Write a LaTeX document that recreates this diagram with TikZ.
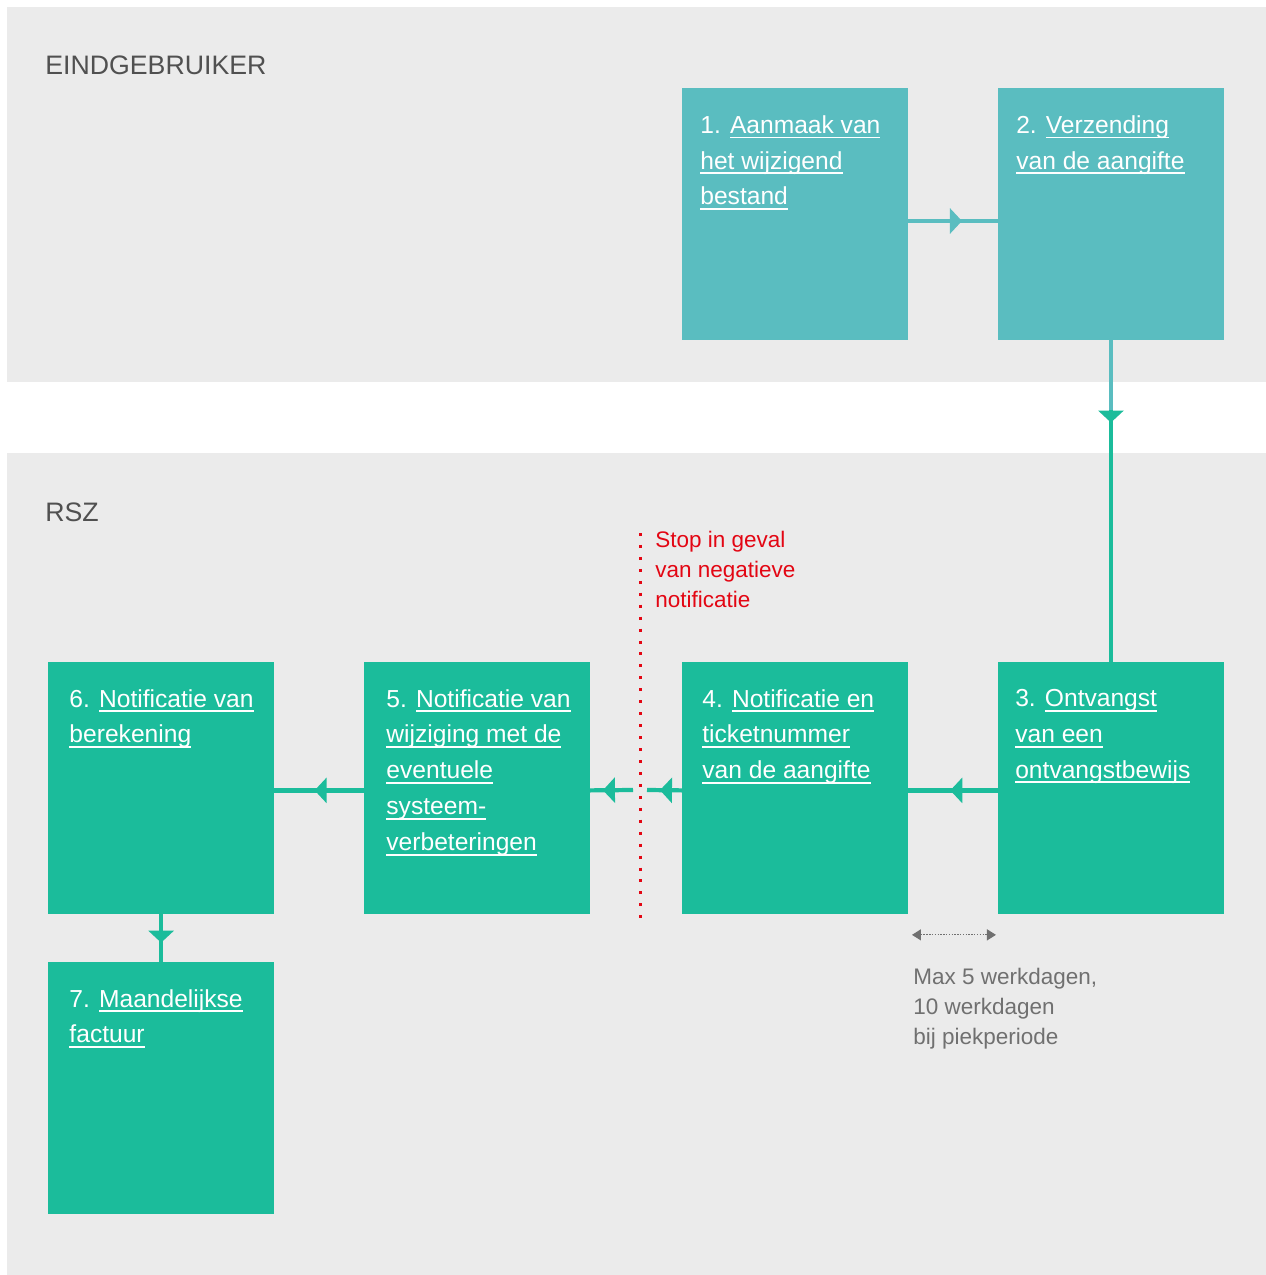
\documentclass[tikz,border=0pt]{standalone}
\usepackage{fontspec}
\setmainfont{Liberation Sans}
\usetikzlibrary{arrows.meta}
\usetikzlibrary{positioning}
\usetikzlibrary{calc}
\usetikzlibrary{decorations.markings}
\definecolor{rszteal}{HTML}{5ABDC0}
\definecolor{rszgreen}{HTML}{1BBC9B}
\definecolor{rszpanel}{HTML}{EBEBEB}
\definecolor{rszred}{HTML}{E30613}
\definecolor{rsznote}{HTML}{707070}
\definecolor{rsztitle}{HTML}{505050}
\newlength\onderbreedte
\newcommand\onder[1]{\settowidth\onderbreedte{#1}\rlap{\rule[-3pt]{\onderbreedte}{1.1pt}}#1}
\tikzset{
  stapbox/.style={rectangle, minimum width=4.52cm, minimum height=5.04cm,
    inner sep=0pt, outer sep=0pt},
  boxtekst/.style={anchor=north west, inner sep=0pt, align=left, text=white,
    font=\fontsize{14}{20.4}\selectfont},
  midarrow/.style={postaction={decorate}, decoration={markings,
    mark=at position #1 with {\arrow{Triangle[length=0.24cm,width=0.5cm]}}}},
}

\begin{document}
\begin{tikzpicture}[x=0.02cm, y=-0.02cm,
	eind/.style={stapbox, fill=rszteal},
	rsz/.style={stapbox, fill=rszgreen},
	tealline/.style={draw=rszteal, line width=2.4pt},
	greenline/.style={draw=rszgreen, line width=2.4pt},
	titel/.style={anchor=west, inner sep=0pt, text=rsztitle, font=\fontsize{15.2}{19}\selectfont},
	notitie/.style={anchor=north west, inner sep=0pt, align=left, font=\fontsize{12.8}{17}\selectfont},
	duur/.style={draw=rsznote, line width=0.7pt, dash pattern=on 0.8pt off 0.8pt,
	  {Triangle[length=0.18cm,width=0.22cm]}-{Triangle[length=0.18cm,width=0.22cm]}},
	node distance = 1.8cm and 1.8cm]
	
	% page and lanes
	\useasboundingbox (0,0) rectangle (1266,1275);
	\fill[white] (0,0) rectangle (1266,1275);
	\fill[rszpanel] (7,7) rectangle (1266,382);
	\fill[rszpanel] (7,453) rectangle (1266,1275);
	\node[titel] (lane1) at (45,65) {EINDGEBRUIKER};
	\node[titel] (lane2) at (45,512) {RSZ};
	
	% steps
	\node[eind] (s1) at (795,214) {};
	\node[eind, right = of s1] (s2) {};
	\node[rsz, below = 6.44cm of s2] (s3) {};
	\node[rsz, left = of s3] (s4) {};
	\node[rsz, left = 1.84cm of s4] (s5) {};
	\node[rsz, left = of s5] (s6) {};
	\node[rsz, below = 0.96cm of s6] (s7) {};
	
	% step texts
	\node[boxtekst] at ([shift={(0.36cm,-0.54cm)}]s1.north west)
	  {1. \onder{Aanmaak van}\\\onder{het wijzigend}\\\onder{bestand}};
	\node[boxtekst] at ([shift={(0.36cm,-0.54cm)}]s2.north west)
	  {2. \onder{Verzending}\\\onder{van de aangifte}};
	\node[boxtekst] at ([shift={(0.34cm,-0.54cm)}]s3.north west)
	  {3. \onder{Ontvangst}\\\onder{van een}\\\onder{ontvangstbewijs}};
	\node[boxtekst] at ([shift={(0.4cm,-0.54cm)}]s4.north west)
	  {4. \onder{Notificatie en}\\\onder{ticketnummer}\\\onder{van de aangifte}};
	\node[boxtekst] at ([shift={(0.44cm,-0.54cm)}]s5.north west)
	  {5. \onder{Notificatie van}\\\onder{wijziging met de}\\\onder{eventuele}\\\onder{systeem-}\\\onder{verbeteringen}};
	\node[boxtekst] at ([shift={(0.42cm,-0.54cm)}]s6.north west)
	  {6. \onder{Notificatie van}\\\onder{berekening}};
	\node[boxtekst] at ([shift={(0.42cm,-0.54cm)}]s7.north west)
	  {7. \onder{Maandelijkse}\\\onder{factuur}};
	
	% stop line
	\coordinate (stoptop) at (640,533);
	\coordinate (stopbot) at (640,918);
	\coordinate (stop) at (640,790);
	\draw[rszred, line width=1.7pt, dash pattern=on 1.7pt off 5.1pt] (stoptop) -- (stopbot);
	\node[notitie, text=rszred] (stoptekst) at (655,531)
	  {Stop in geval\\van negatieve\\notificatie};
	
	% connecting lines
	\draw[tealline, midarrow=0.6] ([yshift=-0.14cm]s1.east) -- ([yshift=-0.14cm]s2.west);
	\coordinate (wissel) at ($(s2.south)+(0,-1.4cm)$);
	\draw[tealline] (s2.south) -- (wissel);
	\draw[greenline, midarrow=0.05] (wissel) -- (s3.north);
	\draw[greenline, midarrow=0.53] ([yshift=-0.05cm]s3.west) -- ([yshift=-0.05cm]s4.east);
	\draw[greenline, midarrow=0.63] ([yshift=-0.05cm]s4.west) -- ([xshift=0.14cm]stop);
	\draw[greenline, midarrow=0.7] ([xshift=-0.14cm]stop) -- ([yshift=-0.05cm]s5.east);
	\draw[greenline, midarrow=0.55] ([yshift=-0.05cm]s5.west) -- ([yshift=-0.05cm]s6.east);
	\draw[greenline, midarrow=0.6] (s6.south) -- (s7.north);
	
	% lead time
	\draw[duur] ([shift={(0.08cm,-0.42cm)}]s4.south east) -- ([shift={(-0.04cm,-0.42cm)}]s3.south west);
	\node[notitie, text=rsznote] (duurtekst) at (913,968)
	  {Max 5 werkdagen,\\10 werkdagen\\bij piekperiode};
\end{tikzpicture}
\end{document}
